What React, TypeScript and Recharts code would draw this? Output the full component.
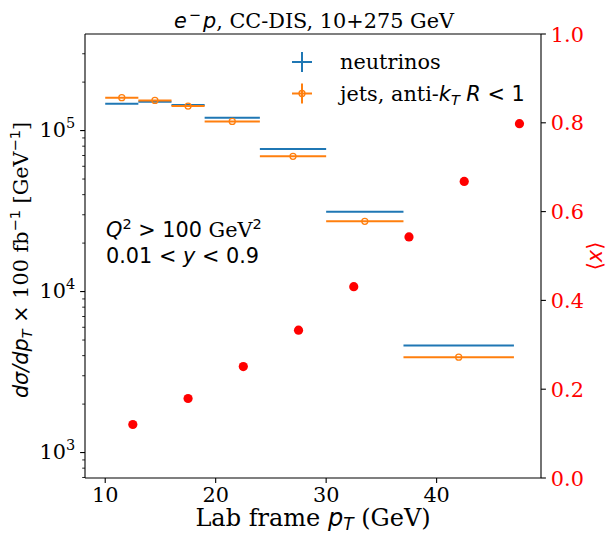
import React from 'react';
import { ComposedChart, Scatter, XAxis, YAxis, ErrorBar, ReferenceLine } from 'recharts';

const binLow = [10, 13, 16, 19, 24, 30, 37];
const binHigh = [13, 16, 19, 24, 30, 37, 47];
const neutrinos = [1.47e5, 1.51e5, 1.44e5, 1.2e5, 7.69e4, 3.13e4, 4.63e3];
const jets = [1.6e5, 1.54e5, 1.42e5, 1.14e5, 6.92e4, 2.73e4, 3.91e3];
const meanXPt = [12.5, 17.5, 22.5, 27.5, 32.5, 37.5, 42.5, 47.5];
const meanX = [0.1205, 0.179, 0.251, 0.333, 0.431, 0.543, 0.668, 0.798];

const xTicks = [10, 20, 30, 40];
const rightTicks = [0, 0.2, 0.4, 0.6, 0.8, 1.0];
const xDomain = [8.17, 49.45];
const leftDomain = [695, 3.98e5];
const rightDomain = [0, 1];

const leftTicks: number[] = [];
for (const e of [2, 3, 4, 5]) {
  for (let m = 1; m <= 9; m++) {
    const v = m * Math.pow(10, e);
    if (v >= leftDomain[0] && v <= leftDomain[1]) leftTicks.push(v);
  }
}

const blueData = binLow.map((lo, i) => ({ x: (lo + binHigh[i]) / 2, y: neutrinos[i], xerr: (binHigh[i] - lo) / 2 }));
const orangeData = binLow.map((lo, i) => ({ x: (lo + binHigh[i]) / 2, y: jets[i], xerr: (binHigh[i] - lo) / 2 }));
const redData = meanXPt.map((x, i) => ({ x, y: meanX[i] }));

const BLUE = '#1f77b4';
const ORANGE = '#ff7f0e';
const RED = '#ff0000';
const SERIF = 'DejaVu Serif';
const SANS = 'DejaVu Sans';
const FS = 20.8;
const SUP = 14.5;

const LeftTick = (props: any) => {
  const { x, y, payload } = props;
  const v = payload.value;
  const exp = Math.round(Math.log10(v));
  const major = Math.abs(v - Math.pow(10, exp)) < 1e-6 * v;
  return (
    <g>
      <line x1={x} x2={x - (major ? 4.9 : 2.8)} y1={y} y2={y} stroke="#000" strokeWidth={major ? 1.1 : 0.85} />
      {major && (
        <text x={x - 9.8} y={y + 6} textAnchor="end" fontFamily={SERIF} fontSize={FS} fill="#000">
          10<tspan dy={-9} fontSize={SUP}>{exp}</tspan>
        </text>
      )}
    </g>
  );
};

const BottomTick = (props: any) => {
  const { x, y, payload } = props;
  return (
    <g>
      <line x1={x} x2={x} y1={y} y2={y + 4.9} stroke="#000" strokeWidth={1.1} />
      <text x={x} y={y + 24} textAnchor="middle" fontFamily={SERIF} fontSize={FS} fill="#000">
        {payload.value}
      </text>
    </g>
  );
};

const RightTick = (props: any) => {
  const { x, y, payload } = props;
  return (
    <g>
      <line x1={x} x2={x + 4.9} y1={y} y2={y} stroke="#000" strokeWidth={1.1} />
      <text x={x + 9.8} y={y + 7.5} textAnchor="start" fontFamily={SERIF} fontSize={FS} fill={RED}>
        {Number(payload.value).toFixed(1)}
      </text>
    </g>
  );
};

const NoShape = () => <g />;
const OpenCircle = (props: any) => (
  <circle cx={props.cx} cy={props.cy} r={3} fill="none" stroke={ORANGE} strokeWidth={1.3} />
);
const RedDot = (props: any) => <circle cx={props.cx} cy={props.cy} r={4.6} fill={RED} />;

export default function App() {
  return (
    <div style={{ position: 'absolute', left: 0, top: 0, width: 608, height: 535, background: '#fff' }}>
      <ComposedChart width={608} height={535} margin={{ top: 34, right: 0, bottom: 0, left: 0 }}>
        <XAxis
          xAxisId="bottom"
          type="number"
          dataKey="x"
          domain={xDomain}
          ticks={xTicks}
          interval={0}
          allowDataOverflow
          height={57}
          tickSize={0}
          tickMargin={0}
          tickLine={false}
          axisLine={{ stroke: '#000', strokeWidth: 1.1 }}
          tick={<BottomTick />}
        />
        <YAxis
          yAxisId="left"
          type="number"
          dataKey="y"
          scale="log"
          domain={leftDomain}
          allowDataOverflow
          ticks={leftTicks}
          interval={0}
          width={85}
          tickSize={0}
          tickMargin={0}
          tickLine={false}
          axisLine={{ stroke: '#000', strokeWidth: 1.1 }}
          tick={<LeftTick />}
        />
        <YAxis
          yAxisId="right"
          orientation="right"
          type="number"
          dataKey="y"
          domain={rightDomain}
          allowDataOverflow
          ticks={rightTicks}
          interval={0}
          width={67}
          tickSize={0}
          tickMargin={0}
          tickLine={false}
          axisLine={{ stroke: '#000', strokeWidth: 1.1 }}
          tick={<RightTick />}
        />
        <ReferenceLine xAxisId="bottom" yAxisId="right" y={rightDomain[1]} stroke="#000" strokeWidth={1.1} />
        <Scatter
          name="neutrinos"
          data={blueData}
          xAxisId="bottom"
          yAxisId="left"
          dataKey="y"
          shape={<NoShape />}
          isAnimationActive={false}
        >
          <ErrorBar dataKey="xerr" direction="x" width={0} stroke={BLUE} strokeWidth={2} isAnimationActive={false} />
        </Scatter>
        <Scatter
          name="jets"
          data={orangeData}
          xAxisId="bottom"
          yAxisId="left"
          dataKey="y"
          shape={<OpenCircle />}
          isAnimationActive={false}
        >
          <ErrorBar dataKey="xerr" direction="x" width={0} stroke={ORANGE} strokeWidth={2} isAnimationActive={false} />
        </Scatter>
        <Scatter
          name="meanx"
          data={redData}
          xAxisId="bottom"
          yAxisId="right"
          dataKey="y"
          shape={<RedDot />}
          isAnimationActive={false}
        />
      </ComposedChart>
      <svg width={608} height={535} style={{ position: 'absolute', left: 0, top: 0, pointerEvents: 'none' }}>
        {/* title */}
        <text x={314} y={28} textAnchor="middle" fontSize={FS} fill="#000" fontFamily={SERIF}>
          <tspan fontFamily={SANS} fontStyle="italic">e</tspan>
          <tspan fontFamily={SANS} fontSize={SUP} dy={-8} dx={2}>{'\u2212'}</tspan>
          <tspan fontFamily={SANS} fontStyle="italic" dy={8} dx={2}>p</tspan>
          <tspan>, CC-DIS, 10+275 GeV</tspan>
        </text>
        {/* legend */}
        <g stroke={BLUE} strokeWidth={2}>
          <line x1={292} x2={312} y1={62} y2={62} />
          <line x1={302} x2={302} y1={52} y2={72} />
        </g>
        <g stroke={ORANGE} strokeWidth={2}>
          <line x1={292} x2={312} y1={93.5} y2={93.5} />
          <line x1={302} x2={302} y1={83.5} y2={103.5} />
        </g>
        <circle cx={302} cy={93.5} r={3} fill="none" stroke={ORANGE} strokeWidth={1.3} />
        <text x={340} y={69} fontFamily={SERIF} fontSize={FS} fill="#000">neutrinos</text>
        <text x={340} y={101} fontFamily={SERIF} fontSize={FS} fill="#000">
          <tspan>jets, anti-</tspan>
          <tspan fontFamily={SANS} fontStyle="italic">k</tspan>
          <tspan fontFamily={SANS} fontStyle="italic" fontSize={SUP} dy={4}>T</tspan>
          <tspan fontFamily={SANS} fontStyle="italic" dy={-4}>{' R'}</tspan>
          <tspan fontFamily={SANS}>{' < 1'}</tspan>
        </text>
        {/* annotation */}
        <text x={106} y={237} fontSize={FS} fill="#000" fontFamily={SANS}>
          <tspan fontStyle="italic">Q</tspan>
          <tspan fontSize={SUP} dy={-8}>2</tspan>
          <tspan dy={8}>{' > 100 '}</tspan>
          <tspan fontFamily={SERIF}>GeV</tspan>
          <tspan fontFamily={SANS} fontSize={SUP} dy={-8}>2</tspan>
        </text>
        <text x={106} y={263} fontSize={FS} fill="#000" fontFamily={SANS}>
          <tspan>{'0.01 < '}</tspan>
          <tspan fontStyle="italic">y</tspan>
          <tspan>{' < 0.9'}</tspan>
        </text>
        {/* x label */}
        <text x={313} y={526} textAnchor="middle" fontSize={24} fill="#000" fontFamily={SERIF}>
          <tspan>Lab frame </tspan>
          <tspan fontFamily={SANS} fontStyle="italic">p</tspan>
          <tspan fontFamily={SANS} fontStyle="italic" fontSize={17} dy={4}>T</tspan>
          <tspan dy={-4}> (GeV)</tspan>
        </text>
        {/* left y label */}
        <text transform="translate(28,260) rotate(-90)" textAnchor="middle" fontSize={FS} fill="#000" fontFamily={SERIF}>
          <tspan fontFamily={SANS} fontStyle="italic">d{'\u03c3'}/dp</tspan>
          <tspan fontFamily={SANS} fontStyle="italic" fontSize={SUP} dy={4}>T</tspan>
          <tspan fontFamily={SANS} dy={-4}>{' \u00d7 '}</tspan>
          <tspan>100 fb</tspan>
          <tspan fontFamily={SANS} fontSize={SUP} dy={-8}>{'\u22121'}</tspan>
          <tspan dy={8}> [GeV</tspan>
          <tspan fontFamily={SANS} fontSize={SUP} dy={-8}>{'\u22121'}</tspan>
          <tspan dy={8}>]</tspan>
        </text>
        {/* right y label */}
        <text transform="translate(602,256) rotate(-90)" textAnchor="middle" fontSize={FS} fill={RED} fontFamily={SANS}>
          <tspan>{'\u27e8'}</tspan>
          <tspan fontStyle="italic">x</tspan>
          <tspan>{'\u27e9'}</tspan>
        </text>
      </svg>
    </div>
  );
}
